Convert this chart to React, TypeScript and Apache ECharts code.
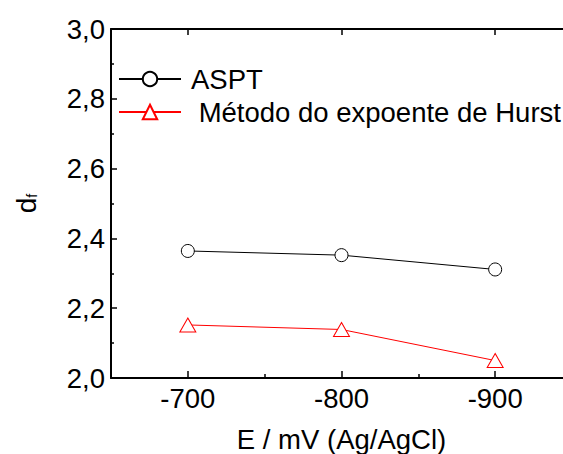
import React, { useEffect, useRef } from "react";
import * as echarts from "echarts";

const potentials = [-700, -800, -900];
const asptValues = [2.364, 2.352, 2.311];
const hurstValues = [2.152, 2.139, 2.05];
const majorXTicks = [-700, -800, -900];
const minorXTicks = [-750, -850];
const seriesNames = ["ASPT", " Método do expoente de Hurst"];

const FONT = "'Liberation Sans', Arial, sans-serif";

export default function App() {
  const ref = useRef<HTMLDivElement>(null);
  useEffect(() => {
    if (!ref.current) return;
    const chart = echarts.init(ref.current, undefined, { renderer: "svg" });
    const baseX = {
      type: "value",
      gridIndex: 0,
      min: -950,
      max: -650,
      interval: 50,
      inverse: true,
      splitLine: { show: false },
    };
    chart.setOption({
      animation: false,
      backgroundColor: "#fff",
      textStyle: { fontFamily: FONT },
      grid: {
        left: 111,
        top: 29,
        right: 0,
        bottom: 76,
        containLabel: false,
        outerBoundsMode: "none",
      },
      legend: {
        orient: "vertical",
        left: 118,
        top: 65,
        padding: 0,
        itemWidth: 62,
        itemHeight: 18,
        itemGap: 5,
        data: seriesNames,
        textStyle: {
          fontFamily: FONT,
          fontSize: 27.5,
          lineHeight: 28,
          color: "#000",
          padding: [0, 0, 0, 5],
        },
      },
      xAxis: [
        {
          ...baseX,
          position: "bottom",
          name: "E / mV (Ag/AgCl)",
          nameLocation: "middle",
          nameGap: 47,
          nameMoveOverlap: false,
          nameTextStyle: { fontFamily: FONT, fontSize: 27.5, color: "#000" },
          axisLine: { show: true, lineStyle: { color: "#000", width: 2 } },
          axisTick: {
            show: true,
            inside: true,
            length: 7,
            customValues: majorXTicks,
            lineStyle: { color: "#000", width: 1.5 },
          },
          axisLabel: {
            show: true,
            margin: 6,
            customValues: majorXTicks,
            fontFamily: FONT,
            fontSize: 27.5,
            color: "#000",
          },
        },
        {
          ...baseX,
          position: "bottom",
          axisLine: { show: false },
          axisTick: {
            show: true,
            inside: true,
            length: 4,
            customValues: minorXTicks,
            lineStyle: { color: "#000", width: 1.5 },
          },
          axisLabel: { show: false },
        },
        {
          ...baseX,
          position: "top",
          axisLine: { show: true, lineStyle: { color: "#000", width: 2 } },
          axisTick: {
            show: true,
            inside: true,
            length: 6,
            customValues: majorXTicks,
            lineStyle: { color: "#000", width: 1.5 },
          },
          axisLabel: { show: false },
        },
      ],
      yAxis: {
        type: "value",
        min: 2,
        max: 3,
        interval: 0.2,
        name: "{a|d}{b|f}",
        nameLocation: "middle",
        nameRotate: 90,
        nameGap: 72,
        nameMoveOverlap: false,
        nameTextStyle: {
          rich: {
            a: { fontFamily: FONT, fontSize: 28, lineHeight: 27, verticalAlign: "top", color: "#000" },
            b: {
              fontFamily: FONT,
              fontSize: 14,
              lineHeight: 14,
              verticalAlign: "bottom",
              padding: [28, 0, 0, 0],
              color: "#000",
            },
          },
        },
        axisLine: { show: true, lineStyle: { color: "#000", width: 2 } },
        axisTick: { show: true, inside: true, length: 6, lineStyle: { color: "#000", width: 1.5 } },
        minorTick: { show: true, splitNumber: 2, length: 3, lineStyle: { color: "#000", width: 1.5 } },
        splitLine: { show: false },
        axisLabel: {
          margin: 6,
          fontFamily: FONT,
          fontSize: 27.5,
          color: "#000",
          formatter: (v: number) => v.toFixed(1).replace(".", ","),
        },
      },
      series: [
        {
          name: seriesNames[0],
          type: "line",
          xAxisIndex: 0,
          data: potentials.map((x, i) => [x, asptValues[i]]),
          symbol: "circle",
          symbolSize: 13,
          lineStyle: { color: "#000", width: 1 },
          itemStyle: { color: "#fff", borderColor: "#000", borderWidth: 1 },
        },
        {
          name: seriesNames[1],
          type: "line",
          xAxisIndex: 0,
          data: potentials.map((x, i) => [x, hurstValues[i]]),
          symbol: "triangle",
          symbolSize: [16, 14],
          lineStyle: { color: "#ff0000", width: 1 },
          itemStyle: { color: "#fff", borderColor: "#ff0000", borderWidth: 1 },
        },
      ],
    });
    return () => chart.dispose();
  }, []);
  return (
    <div
      style={{ position: "absolute", left: 0, top: 0, width: 563, height: 454, overflow: "hidden" }}
    >
      <div ref={ref} style={{ width: 572, height: 454 }} />
    </div>
  );
}
